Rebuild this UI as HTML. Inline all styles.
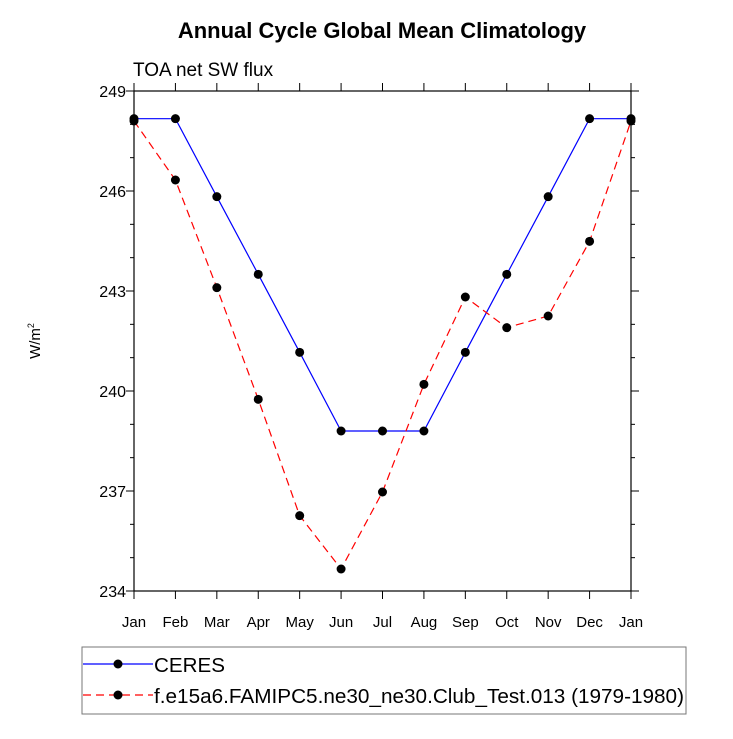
<!DOCTYPE html>
<html><head><meta charset="utf-8"><style>
body{margin:0;background:#fff;}
svg text{font-family:"Liberation Sans",Arial,sans-serif;}
</style></head><body>
<svg width="733" height="734" viewBox="0 0 733 734">
<text x="382" y="38" text-anchor="middle" font-size="22" font-weight="bold">Annual Cycle Global Mean Climatology</text>
<text x="133" y="76" font-size="19">TOA net SW flux</text>
<text transform="translate(40,341) rotate(-90)" text-anchor="middle" font-size="15">W/m<tspan font-size="9" dy="-6">2</tspan></text>
<g id="axes"></g>
<g id="marks"></g>
<g>
<rect x="82" y="647" width="604" height="67" fill="none" stroke="#777" stroke-width="1"/>
<g>
<line x1="83" y1="664" x2="153" y2="664" stroke="#0000ff" stroke-width="1.2"/>
<circle cx="118" cy="664" r="4.5" fill="#000"/>
<text x="154" y="672" font-size="20.5" textLength="71" lengthAdjust="spacingAndGlyphs">CERES</text></g>
<g>
<line x1="83" y1="695" x2="153" y2="695" stroke="#ff0000" stroke-width="1.2" stroke-dasharray="8,5"/>
<circle cx="118" cy="695" r="4.5" fill="#000"/>
<text x="154" y="703" font-size="20.5" textLength="530" lengthAdjust="spacingAndGlyphs">f.e15a6.FAMIPC5.ne30_ne30.Club_Test.013 (1979-1980)</text></g>
</g>
</svg>
<script>
const months=["Jan","Feb","Mar","Apr","May","Jun","Jul","Aug","Sep","Oct","Nov","Dec","Jan"];
const ceres=[248.17,248.17,245.83,243.5,241.16,238.8,238.8,238.8,241.16,243.5,245.83,248.17,248.17];
const model=[248.1,246.33,243.1,239.75,236.26,234.66,236.97,240.2,242.82,241.9,242.25,244.49,248.1];
const yTicks=[234,237,240,243,246,249];
const NS="http://www.w3.org/2000/svg";
const X0=134,X1=631,Y0=91,Y1=591,YMIN=234,YMAX=249;
const xs=i=>X0+(X1-X0)*i/(months.length-1);
const ys=v=>Y1-(v-YMIN)/(YMAX-YMIN)*(Y1-Y0);
function mk(t,a,p){const e=document.createElementNS(NS,t);for(const k in a)e.setAttribute(k,a[k]);p.appendChild(e);return e;}
const ax=document.getElementById('axes');
const frame=mk('rect',{x:X0,y:Y0,width:X1-X0,height:Y1-Y0,fill:'none',stroke:'#000','stroke-width':1.2},ax);


for(let v=YMIN;v<=YMAX;v+=1){const y=ys(v);const big=yTicks.includes(v);const L=big?8:4;
mk('line',{x1:X0,y1:y,x2:X0-L,y2:y,stroke:'#000'},ax);mk('line',{x1:X1,y1:y,x2:X1+L,y2:y,stroke:'#000'},ax);}
yTicks.forEach(v=>{const t=mk('text',{x:X0-8,y:ys(v)+6,'text-anchor':'end','font-size':16},ax);t.textContent=v;

});
months.forEach((m,i)=>{const x=xs(i);mk('line',{x1:x,y1:Y1,x2:x,y2:Y1+8,stroke:'#000'},ax);mk('line',{x1:x,y1:Y0,x2:x,y2:Y0-8,stroke:'#000'},ax);
const t=mk('text',{x:x,y:Y1+36,'text-anchor':'middle','font-size':15},ax);t.textContent=m;

});
const mg=document.getElementById('marks');
function series(data,color,dash,name){
const p=mk('polyline',{points:data.map((v,i)=>xs(i)+','+ys(v)).join(' '),fill:'none',stroke:color,'stroke-width':1.2,'stroke-dasharray':dash},mg);


data.forEach((v,i)=>{const c=mk('circle',{cx:xs(i),cy:ys(v),r:4.5,fill:'#000'},mg);

});}
series(ceres,'#0000ff','none','ceres');
series(model,'#ff0000','8,5','model');
</script>
</body></html>
